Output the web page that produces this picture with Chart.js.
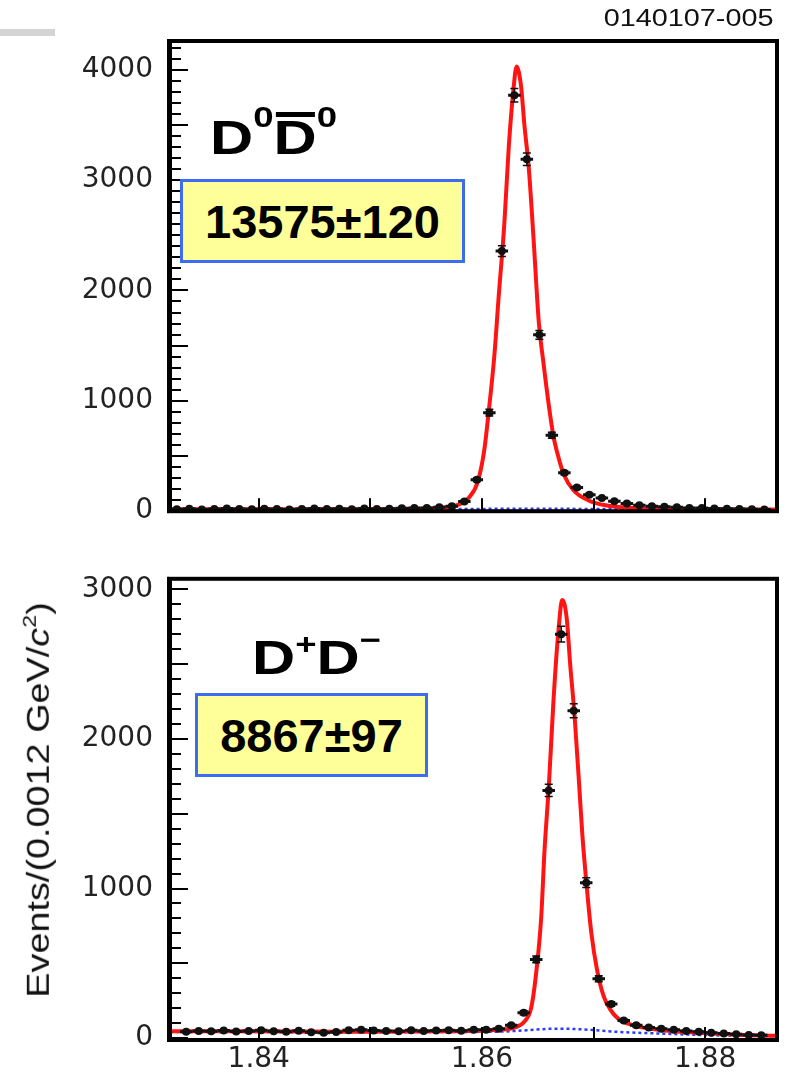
<!DOCTYPE html>
<html>
<head>
<meta charset="utf-8">
<script src="https://cdn.jsdelivr.net/npm/chart.js@4.4.0/dist/chart.umd.min.js"></script>
<style>
body { margin: 0; background: #fff; width: 796px; height: 1074px; position: relative; overflow: hidden; font-family: "Liberation Sans", Arial, sans-serif; }
canvas { position: absolute; left: 0; }
#topPanel { top: 0; }
#botPanel { top: 545px; }
.bar { position: absolute; left: 0; top: 29px; width: 55px; height: 7px; background: #d4d4d4; }
.runid { position: absolute; right: 23px; top: 6px; font-size: 24px; line-height: 1; color: #111; transform: scaleX(1.2); transform-origin: right top; white-space: nowrap; }
.ytitle { position: absolute; left: 38px; top: 800px; font-size: 31px; line-height: 1; color: #111; white-space: nowrap; transform: translate(-50%, -50%) rotate(-90deg) scaleX(1.22); }
.ytitle sup { font-size: 19px; position: relative; top: -2px; }
.box { position: absolute; background: #ffff99; border: 3px solid #3d6cf2; box-sizing: border-box; font-weight: bold; font-size: 47px; color: #000; display: flex; align-items: center; justify-content: center; }
.lab { position: absolute; font-weight: bold; font-size: 49px; line-height: 1; color: #000; transform: scaleX(1.22); transform-origin: 0 0; white-space: nowrap; }
.lab .s { font-size: 30px; position: relative; }
.ol { position: relative; display: inline-block; }
.ol::after { content: ""; position: absolute; left: 2px; right: 1px; top: -1px; height: 5px; background: #000; }
</style>
</head>
<body>
<canvas id="topPanel" width="796" height="545"></canvas>
<canvas id="botPanel" width="796" height="529"></canvas>
<div class="bar"></div>
<div class="runid">0140107-005</div>
<div class="ytitle">Events/(0.0012 GeV/<i>c</i><sup>2</sup>)</div>
<div class="lab" style="left:210px; top:113px;">D<span class="s" style="top:-27px">0</span><span class="ol">D</span><span class="s" style="top:-27px">0</span></div>
<div class="box" style="left:180px; top:179px; width:285px; height:84px;">13575±120</div>
<div class="lab" style="left:252px; top:633px;">D<span class="s" style="top:-20px">+</span>D<span class="s" style="top:-24px">−</span></div>
<div class="box" style="left:195px; top:693px; width:233px; height:84px;">8867±97</div>
<script>
// bins (GeV/c^2) and counts
const binWidth = 0.00112;
const xMin = 1.83205, xMax = 1.88643;
const xTicks = [1.84, 1.86, 1.88];
const xMinorTicks = [1.84, 1.85, 1.86, 1.87, 1.88];
const topTicks = [0, 1000, 2000, 3000, 4000];
const botTicks = [0, 1000, 2000, 3000];
const yMinorStep = 100;

const topFirstBin = 1.83266;
const topCounts = [18, 22, 15, 20, 24, 19, 17, 23, 20, 16, 21, 25, 19, 22, 18, 24, 20, 23, 26,
  28, 30, 36, 45, 89, 286, 893, 2357, 3768, 3188, 1598, 688, 348, 214, 150, 120, 90, 70, 55, 45, 40, 35, 30, 28, 25, 22, 20, 18, 16];

const botFirstBin = 1.83350;
const botCounts = [42, 48, 45, 50, 44, 47, 52, 46, 43, 49, 38, 35, 40, 52, 55, 50, 47, 45, 52, 48, 50, 53, 49, 55,
  55, 62, 85, 169, 526, 1656, 2701, 2188, 1039, 396, 227, 117, 85, 70, 62, 55, 48, 42, 35, 30, 25, 20, 18];

// fit curves (red)
const topFitX = [1.8321, 1.8437, 1.8526, 1.8562, 1.8579, 1.8588, 1.8596, 1.8602, 1.8606, 1.8611, 1.8615, 1.8620, 1.8624, 1.8628, 1.8631,
  1.8635, 1.8638, 1.8642, 1.8646, 1.8651, 1.8655, 1.8660, 1.8664, 1.8669, 1.8673, 1.8682, 1.8696, 1.8713, 1.8749, 1.8794, 1.8863];
const topFitY = [18, 18, 20, 30, 60, 120, 260, 550, 900, 1400, 1950, 2600, 3300, 3800, 4030,
  3850, 3500, 3100, 2500, 1700, 1350, 950, 680, 470, 340, 190, 95, 50, 25, 18, 15];

const botFitX = [1.8321, 1.8392, 1.8481, 1.8571, 1.8615, 1.8629, 1.8638, 1.8644, 1.8648, 1.8653, 1.8656, 1.8660, 1.8664, 1.8668, 1.8672,
  1.8676, 1.8679, 1.8683, 1.8687, 1.8690, 1.8694, 1.8698, 1.8703, 1.8709, 1.8715, 1.8722, 1.8736, 1.8758, 1.8794, 1.8829, 1.8863];
const botFitY = [45, 45, 42, 45, 55, 70, 110, 200, 400, 800, 1250, 1700, 2250, 2680, 2930,
  2800, 2500, 2150, 1700, 1350, 1000, 700, 460, 280, 190, 130, 85, 55, 35, 22, 15];

// background (blue dotted)
const topBkgX = [1.8321, 1.8600, 1.8630, 1.8660, 1.8700, 1.8863];
const topBkgY = [20, 21, 22, 22, 20, 16];
const botBkgX = [1.8321, 1.8500, 1.8610, 1.8640, 1.8665, 1.8690, 1.8720, 1.8760, 1.8800, 1.8863];
const botBkgY = [40, 40, 42, 52, 63, 58, 42, 30, 20, 12];

const toPts = (xs, ys) => xs.map((x, i) => ({ x: x, y: ys[i] }));
const binPts = (first, counts) => counts.map((c, i) => ({ x: first + i * binWidth, y: c }));

const frameAndErrors = {
  id: 'frameAndErrors',
  afterDraw(chart) {
    const ctx = chart.ctx, xs = chart.scales.x, ys = chart.scales.y, a = chart.chartArea;
    ctx.save();
    ctx.beginPath();
    ctx.rect(a.left, a.top, a.right - a.left, a.bottom - a.top);
    ctx.clip();
    ctx.strokeStyle = '#111';
    for (const p of chart.data.datasets[2].data) {
      const px = xs.getPixelForValue(p.x), py = ys.getPixelForValue(p.y);
      const e = Math.sqrt(p.y);
      const y1 = ys.getPixelForValue(p.y + e), y2 = ys.getPixelForValue(p.y - e);
      ctx.lineWidth = 3;
      ctx.beginPath();
      ctx.moveTo(xs.getPixelForValue(p.x - binWidth / 2), py);
      ctx.lineTo(xs.getPixelForValue(p.x + binWidth / 2), py);
      ctx.stroke();
      ctx.lineWidth = 1.5;
      ctx.beginPath();
      ctx.moveTo(px, y1); ctx.lineTo(px, y2);
      ctx.moveTo(px - 4, y1); ctx.lineTo(px + 4, y1);
      ctx.moveTo(px - 4, y2); ctx.lineTo(px + 4, y2);
      ctx.stroke();
    }
    ctx.restore();

    ctx.save();
    ctx.fillStyle = '#000';
    for (let i = 0; i * yMinorStep <= ys.max; i++) {
      const py = Math.round(ys.getPixelForValue(i * yMinorStep));
      const len = i % 5 === 0 ? 18 : 11;
      ctx.fillRect(a.left, py - 1, len, 2);
    }
    for (const v of xMinorTicks) {
      const px = Math.round(xs.getPixelForValue(v));
      ctx.fillRect(px - 1, a.bottom - 13, 2, 13);
    }
    ctx.strokeStyle = '#000';
    ctx.lineWidth = 4;
    ctx.strokeRect(a.left, a.top, a.right - a.left, a.bottom - a.top);
    ctx.fillRect(a.left - 3, a.top - 2, 2, a.bottom - a.top + 4);
    ctx.restore();
  }
};

function panel(canvasId, o) {
  return new Chart(document.getElementById(canvasId), {
    type: 'scatter',
    data: {
      datasets: [
        { data: toPts(o.bkgX, o.bkgY), showLine: true, borderColor: '#2a3cff', borderWidth: 2.5, borderDash: [3, 3],
          pointRadius: 0, cubicInterpolationMode: 'monotone', order: 3 },
        { data: toPts(o.fitX, o.fitY), showLine: true, borderColor: '#ff1414', borderWidth: 4,
          pointRadius: 0, cubicInterpolationMode: 'monotone', order: 2 },
        { data: binPts(o.first, o.counts), showLine: false, pointRadius: 4, pointBackgroundColor: '#111',
          pointBorderWidth: 0, order: 1 }
      ]
    },
    options: {
      responsive: false,
      animation: false,
      events: [],
      layout: { padding: { left: 0, right: 19, top: o.padTop, bottom: 0 } },
      plugins: { legend: { display: false }, tooltip: { enabled: false }, title: { display: false } },
      scales: {
        x: {
          type: 'linear', min: xMin, max: xMax,
          grid: { display: false, drawTicks: false }, border: { display: false },
          afterBuildTicks: s => { s.ticks = xTicks.map(v => ({ value: v })); },
          afterFit: s => { s.height = o.xHeight; },
          ticks: { display: o.xLabels, padding: 3, color: '#222', font: { family: 'DejaVu Sans', size: 28 },
                   callback: v => v.toFixed(2), maxRotation: 0 }
        },
        y: {
          min: o.yMin, max: o.yMax,
          grid: { display: false, drawTicks: false }, border: { display: false },
          afterBuildTicks: s => { s.ticks = o.yTicks.map(v => ({ value: v })); },
          afterFit: s => { s.width = 170; },
          ticks: { padding: 17, color: '#222', font: { family: 'DejaVu Sans', size: 28 },
                   callback: v => String(v) }
        }
      }
    },
    plugins: [frameAndErrors]
  });
}

panel('topPanel', { bkgX: topBkgX, bkgY: topBkgY, fitX: topFitX, fitY: topFitY, first: topFirstBin, counts: topCounts,
  padTop: 41, xHeight: 28, xLabels: false, yMin: 0, yMax: 4260, yTicks: topTicks });
panel('botPanel', { bkgX: botBkgX, bkgY: botBkgY, fitX: botFitX, fitY: botFitY, first: botFirstBin, counts: botCounts,
  padTop: 20, xHeight: 34, xLabels: true, yMin: -13, yMax: 3071, yTicks: botTicks });
</script>
</body>
</html>
